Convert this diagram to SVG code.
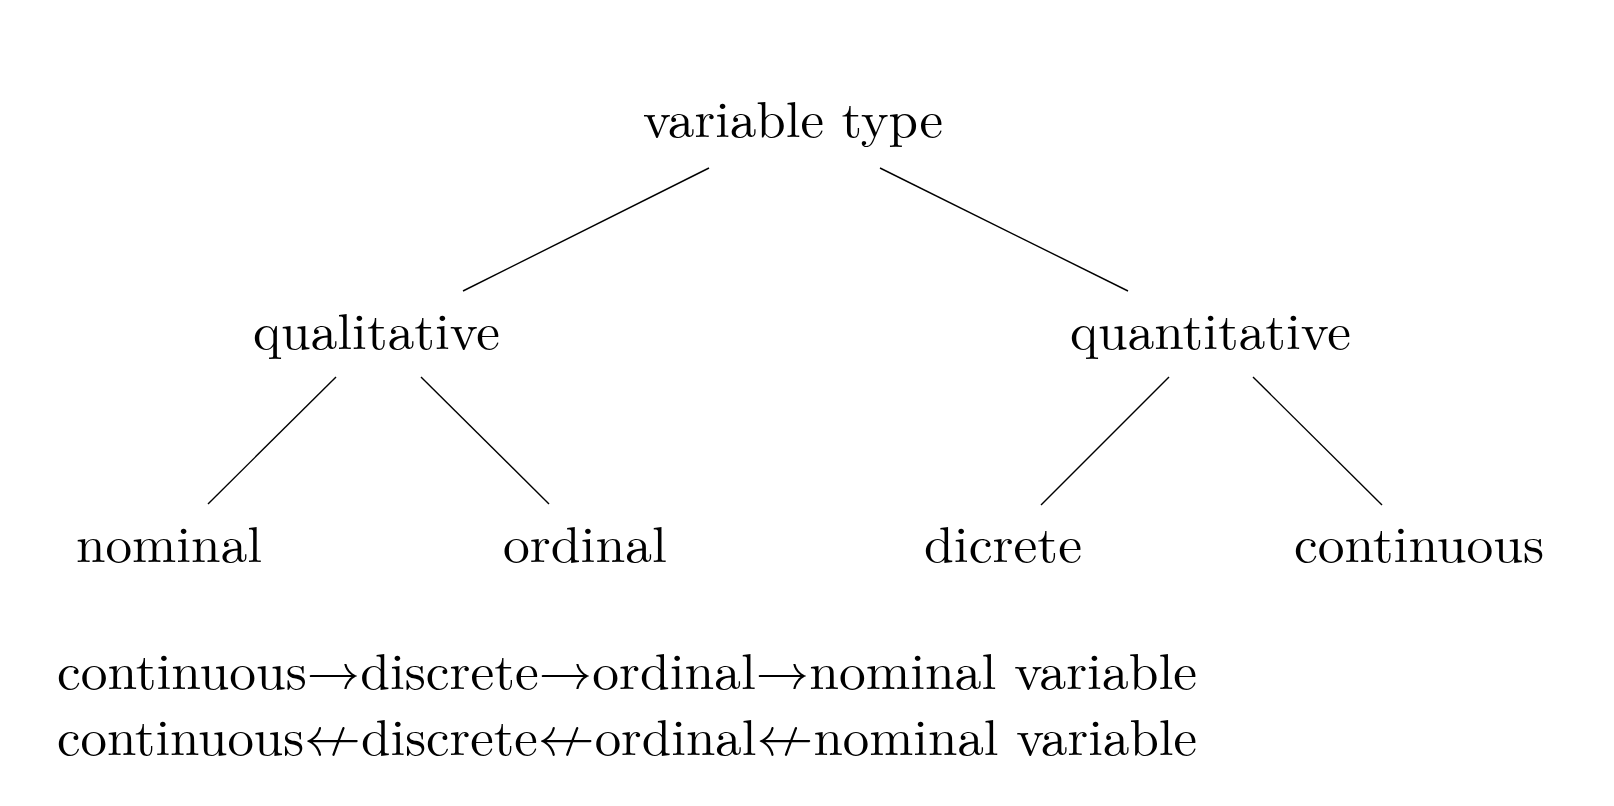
<svg xmlns="http://www.w3.org/2000/svg" width="1614" height="806" viewBox="0 0 1614 806">
<style>
  text { font-family: "Latin Modern Roman", "Liberation Serif", "DejaVu Serif", serif; font-size: 50px; fill: #000; }
  .edge { stroke: #000; stroke-width: 1.4; fill: none; }
  .na { font-family: "Latin Modern Math", "STIX Two Math", "DejaVu Sans", sans-serif; font-weight: 200; font-size: 54px; }
</style>
<rect width="1614" height="806" fill="#fff"/>
<g id="connectors">
  <line class="edge" x1="709" y1="168" x2="463" y2="291"/>
  <line class="edge" x1="880" y1="168" x2="1128" y2="291"/>
  <line class="edge" x1="336" y1="377" x2="208" y2="504"/>
  <line class="edge" x1="421" y1="377" x2="549" y2="504"/>
  <line class="edge" x1="1169" y1="377" x2="1041" y2="505"/>
  <line class="edge" x1="1253" y1="377" x2="1382" y2="505"/>
</g>
<g id="node-variable-type"><text x="643" y="137" textLength="300" lengthAdjust="spacingAndGlyphs">variable type</text></g>
<g id="node-qualitative"><text x="253" y="349" textLength="247" lengthAdjust="spacingAndGlyphs">qualitative</text></g>
<g id="node-quantitative"><text x="1070" y="349" textLength="281" lengthAdjust="spacingAndGlyphs">quantitative</text></g>
<g id="node-nominal"><text x="76" y="562" textLength="186" lengthAdjust="spacingAndGlyphs">nominal</text></g>
<g id="node-ordinal"><text x="503" y="562" textLength="164" lengthAdjust="spacingAndGlyphs">ordinal</text></g>
<g id="node-dicrete"><text x="924" y="562" textLength="158" lengthAdjust="spacingAndGlyphs">dicrete</text></g>
<g id="node-continuous"><text x="1294" y="562" textLength="250" lengthAdjust="spacingAndGlyphs">continuous</text></g>
<g id="caption">
  <text x="57" y="689" textLength="1140" lengthAdjust="spacingAndGlyphs">continuous→discrete→ordinal→nominal variable</text>
  <text x="57" y="755" textLength="1140" lengthAdjust="spacingAndGlyphs">continuous<tspan class="na">↚</tspan>discrete<tspan class="na">↚</tspan>ordinal<tspan class="na">↚</tspan>nominal variable</text>
</g>
</svg>
